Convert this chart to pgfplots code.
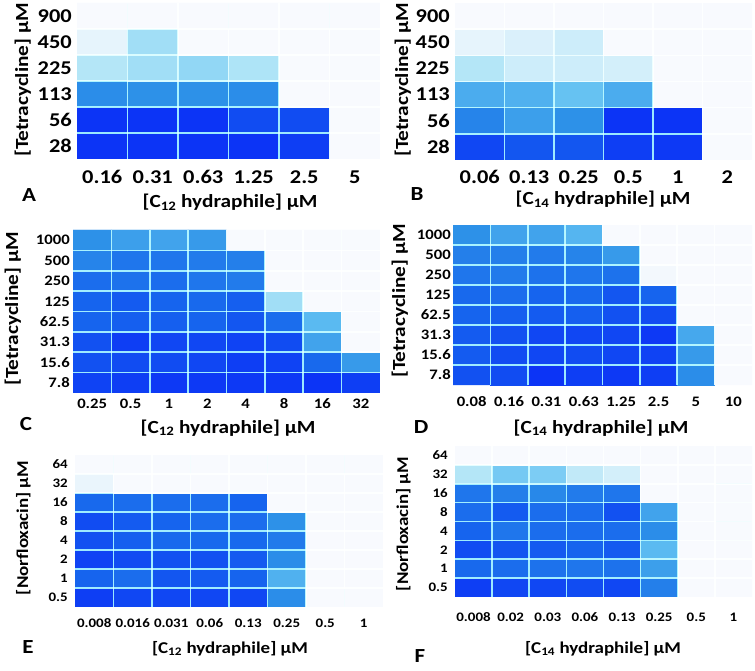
\documentclass[border=0pt]{standalone}
\usepackage{pgfplots}
\pgfplotsset{compat=1.18}
\usepackage{fontspec}
\setmainfont{Carlito}[FakeStretch=1.15]
\newcommand\fs[1]{\bfseries\fontsize{#1}{#1}\selectfont}
\definecolor{gridc}{RGB}{150,225,248}
\begin{document}
\begin{tikzpicture}[x=1pt,y=1pt]
\useasboundingbox (0,0) rectangle (755,-671);
\pgfplotsset{
  colormap={hm}{rgb255=(248,250,254) rgb255=(230,244,252) rgb255=(168,226,246) rgb255=(95,190,242) rgb255=(45,145,232) rgb255=(22,100,238) rgb255=(12,52,246)},
  hm/.style n args={4}{
    at={(#1pt,-#2pt)}, anchor=north west,
    scale only axis, width=#3pt, height=#4pt,
    enlargelimits=false, axis on top,
    axis line style={draw=none},
    major tick length=0pt, minor tick length=0pt,
    point meta min=0, point meta max=6,
    xminorgrids=true, yminorgrids=true,
    minor grid style={draw=gridc, line width=1.6pt, blend mode=screen},
  },
  six/.style={xmin=-0.5, xmax=5.5, ymin=-0.5, ymax=5.5,
    xtick={0,...,5}, ytick={0,...,5},
    minor xtick={0.5,1.5,...,4.5}, minor ytick={0.5,1.5,...,4.5}},
  eight/.style={xmin=-0.5, xmax=7.5, ymin=-0.5, ymax=7.5,
    xtick={0,...,7}, ytick={0,...,7},
    minor xtick={0.5,1.5,...,6.5}, minor ytick={0.5,1.5,...,6.5}},
}
% ---------------- A ----------------
\begin{axis}[hm={77}{3}{303}{156}, six,
  xticklabels={0.16,0.31,0.63,1.25,2.5,5},
  yticklabels={28,56,113,225,450,900},
  tick label style={font=\fs{19.5}},
  xticklabel style={anchor=center, inner sep=0pt, yshift=-18pt},
  yticklabel style={anchor=east, inner sep=0pt, xshift=-5pt}]
\addplot[matrix plot*, mesh/cols=6, point meta=explicit] coordinates {
(0,0)[6] (1,0)[6] (2,0)[6] (3,0)[6] (4,0)[5.8] (5,0)[0]
(0,1)[6] (1,1)[6] (2,1)[6] (3,1)[5.5] (4,1)[5.5] (5,1)[0]
(0,2)[4.1] (1,2)[4] (2,2)[4] (3,2)[4.1] (4,2)[0] (5,2)[0]
(0,3)[1.8] (1,3)[2.1] (2,3)[2.3] (3,3)[1.9] (4,3)[0] (5,3)[0]
(0,4)[1] (1,4)[2.1] (2,4)[0] (3,4)[0] (4,4)[0] (5,4)[0]
(0,5)[0] (1,5)[0] (2,5)[0] (3,5)[0] (4,5)[0] (5,5)[0]
};
\end{axis}
% ---------------- B ----------------
\begin{axis}[hm={455}{3}{297}{157}, six,
  xticklabels={0.06,0.13,0.25,0.5,1,2},
  yticklabels={28,56,113,225,450,900},
  tick label style={font=\fs{19.5}},
  xticklabel style={anchor=center, inner sep=0pt, yshift=-17pt},
  yticklabel style={anchor=east, inner sep=0pt, xshift=-5pt}]
\addplot[matrix plot*, mesh/cols=6, point meta=explicit] coordinates {
(0,0)[5.6] (1,0)[5.3] (2,0)[5.3] (3,0)[5.8] (4,0)[5.9] (5,0)[0]
(0,1)[4.3] (1,1)[3.7] (2,1)[4] (3,1)[6] (4,1)[6] (5,1)[0]
(0,2)[3.4] (1,2)[3.3] (2,2)[2.9] (3,2)[3.4] (4,2)[0] (5,2)[0]
(0,3)[1.8] (1,3)[1.4] (2,3)[1.4] (3,3)[1.3] (4,3)[0] (5,3)[0]
(0,4)[1] (1,4)[1.2] (2,4)[1.4] (3,4)[0] (4,4)[0] (5,4)[0]
(0,5)[0] (1,5)[0] (2,5)[0] (3,5)[0] (4,5)[0] (5,5)[0]
};
\end{axis}
% ---------------- C ----------------
\begin{axis}[hm={73}{230}{307}{163}, eight,
  xticklabels={0.25,0.5,1,2,4,8,16,32},
  yticklabels={7.8,15.6,31.3,62.5,125,250,500,1000},
  tick label style={font=\fs{14.5}},
  xticklabel style={anchor=center, inner sep=0pt, yshift=-11pt},
  yticklabel style={anchor=east, inner sep=0pt, xshift=-3pt}]
\addplot[matrix plot*, mesh/cols=8, point meta=explicit] coordinates {
(0,0)[5.7] (1,0)[5.8] (2,0)[5.9] (3,0)[5.9] (4,0)[5.9] (5,0)[5.9] (6,0)[6] (7,0)[5.8]
(0,1)[5.4] (1,1)[5.5] (2,1)[5.5] (3,1)[5.6] (4,1)[5.8] (5,1)[5.7] (6,1)[4.9] (7,1)[3.8]
(0,2)[5.4] (1,2)[5.8] (2,2)[5.6] (3,2)[5.6] (4,2)[5.7] (5,2)[5.5] (6,2)[3.6] (7,2)[0]
(0,3)[5] (1,3)[5.1] (2,3)[5.1] (3,3)[5] (4,3)[5.3] (5,3)[4.8] (6,3)[3.1] (7,3)[0]
(0,4)[5] (1,4)[5.2] (2,4)[5] (3,4)[4.9] (4,4)[5.1] (5,4)[2.1] (6,4)[0] (7,4)[0]
(0,5)[4.8] (1,5)[4.7] (2,5)[4.8] (3,5)[4.6] (4,5)[4.5] (5,5)[0] (6,5)[0] (7,5)[0]
(0,6)[4.3] (1,6)[4.6] (2,6)[4.6] (3,6)[4.5] (4,6)[4.4] (5,6)[0] (6,6)[0] (7,6)[0]
(0,7)[4] (1,7)[3.7] (2,7)[3.6] (3,7)[3.8] (4,7)[0] (5,7)[0] (6,7)[0] (7,7)[0]
};
\end{axis}
% ---------------- D ----------------
\begin{axis}[hm={453}{225}{299}{160}, eight,
  xticklabels={0.08,0.16,0.31,0.63,1.25,2.5,5,10},
  yticklabels={7.8,15.6,31.3,62.5,125,250,500,1000},
  tick label style={font=\fs{14.5}},
  xticklabel style={anchor=center, inner sep=0pt, yshift=-17pt},
  yticklabel style={anchor=east, inner sep=0pt, xshift=-2pt}]
\addplot[matrix plot*, mesh/cols=8, point meta=explicit] coordinates {
(0,0)[5.4] (1,0)[5.5] (2,0)[6] (3,0)[5.8] (4,0)[5.9] (5,0)[5.8] (6,0)[4.1] (7,0)[0]
(0,1)[5.2] (1,1)[5.5] (2,1)[5.6] (3,1)[5.5] (4,1)[5.6] (5,1)[5.7] (6,1)[3.8] (7,1)[0]
(0,2)[5.2] (1,2)[5.4] (2,2)[5.6] (3,2)[5.6] (4,2)[5.6] (5,2)[5.9] (6,2)[3.5] (7,2)[0]
(0,3)[5] (1,3)[5.1] (2,3)[5.2] (3,3)[5.1] (4,3)[5.4] (5,3)[5.5] (6,3)[0] (7,3)[0]
(0,4)[4.9] (1,4)[4.8] (2,4)[5] (3,4)[4.9] (4,4)[5.3] (5,4)[5] (6,4)[0] (7,4)[0]
(0,5)[4.6] (1,5)[4.5] (2,5)[4.7] (3,5)[4.6] (4,5)[4.7] (5,5)[0.3] (6,5)[0] (7,5)[0]
(0,6)[4.4] (1,6)[4.4] (2,6)[4.5] (3,6)[4.3] (4,6)[3.8] (5,6)[0] (6,6)[0] (7,6)[0]
(0,7)[4] (1,7)[3.6] (2,7)[3.6] (3,7)[3.2] (4,7)[0] (5,7)[0] (6,7)[0] (7,7)[0]
};
\end{axis}
% ---------------- E ----------------
\begin{axis}[hm={75}{455}{308}{152}, eight,
  xticklabels={0.008,0.016,0.031,0.06,0.13,0.25,0.5,1},
  yticklabels={0.5,1,2,4,8,16,32,64},
  tick label style={font=\fs{13}},
  xticklabel style={anchor=center, inner sep=0pt, yshift=-16pt},
  yticklabel style={anchor=east, inner sep=0pt, xshift=-7pt}]
\addplot[matrix plot*, mesh/cols=8, point meta=explicit] coordinates {
(0,0)[5.8] (1,0)[5.6] (2,0)[5.6] (3,0)[5.6] (4,0)[5.6] (5,0)[4.1] (6,0)[0] (7,0)[0]
(0,1)[5] (1,1)[4.8] (2,1)[5.3] (3,1)[5.2] (4,1)[5] (5,1)[3.3] (6,1)[0] (7,1)[0]
(0,2)[5.7] (1,2)[5.5] (2,2)[5.4] (3,2)[5.4] (4,2)[5.2] (5,2)[4.1] (6,2)[0] (7,2)[0]
(0,3)[5.4] (1,3)[5.1] (2,3)[4.9] (3,3)[4.9] (4,3)[4.9] (5,3)[4.5] (6,3)[0] (7,3)[0]
(0,4)[5.5] (1,4)[5.2] (2,4)[5] (3,4)[4.8] (4,4)[4.8] (5,4)[4] (6,4)[0] (7,4)[0]
(0,5)[4.9] (1,5)[4.8] (2,5)[4.8] (3,5)[4.8] (4,5)[5] (5,5)[0] (6,5)[0] (7,5)[0]
(0,6)[0.8] (1,6)[0] (2,6)[0] (3,6)[0] (4,6)[0] (5,6)[0] (6,6)[0] (7,6)[0]
(0,7)[0] (1,7)[0] (2,7)[0] (3,7)[0] (4,7)[0] (5,7)[0] (6,7)[0] (7,7)[0]
};
\end{axis}
% ---------------- F ----------------
\begin{axis}[hm={455}{446}{297}{151}, eight,
  xticklabels={0.008,0.02,0.03,0.06,0.13,0.25,0.5,1},
  yticklabels={0.5,1,2,4,8,16,32,64},
  tick label style={font=\fs{13}},
  xticklabel style={anchor=center, inner sep=0pt, yshift=-20pt},
  yticklabel style={anchor=east, inner sep=0pt, xshift=-7pt}]
\addplot[matrix plot*, mesh/cols=8, point meta=explicit] coordinates {
(0,0)[5.8] (1,0)[5.6] (2,0)[5.6] (3,0)[5.5] (4,0)[5.6] (5,0)[4.4] (6,0)[0] (7,0)[0]
(0,1)[4.9] (1,1)[4.8] (2,1)[4.7] (3,1)[4.6] (4,1)[4.7] (5,1)[3.7] (6,1)[0] (7,1)[0]
(0,2)[5.5] (1,2)[5.3] (2,2)[5.2] (3,2)[5] (4,2)[5.2] (5,2)[3.1] (6,2)[0] (7,2)[0]
(0,3)[5] (1,3)[4.6] (2,3)[4.8] (3,3)[4.8] (4,3)[4.8] (5,3)[4.1] (6,3)[0] (7,3)[0]
(0,4)[4.8] (1,4)[5.2] (2,4)[4.8] (3,4)[4.8] (4,4)[5.4] (5,4)[3.6] (6,4)[0] (7,4)[0]
(0,5)[4.6] (1,5)[4.4] (2,5)[4.2] (3,5)[4.5] (4,5)[4.6] (5,5)[0] (6,5)[0] (7,5)[0]
(0,6)[1.8] (1,6)[2.7] (2,6)[2.6] (3,6)[1.6] (4,6)[1.3] (5,6)[0] (6,6)[0] (7,6)[0]
(0,7)[0] (1,7)[0] (2,7)[0] (3,7)[0] (4,7)[0] (5,7)[0] (6,7)[0] (7,7)[0]
};
\end{axis}
% ---------------- labels ----------------
\node[font=\fs{18.5}, anchor=base] at (230,-208) {[C\textsubscript{12} hydraphile] µM};
\node[font=\fs{18.5}, anchor=base] at (603,-205) {[C\textsubscript{14} hydraphile] µM};
\node[font=\fs{18.5}, anchor=base] at (228,-433) {[C\textsubscript{12} hydraphile] µM};
\node[font=\fs{18.5}, anchor=base] at (601,-433) {[C\textsubscript{14} hydraphile] µM};
\node[font=\fs{16.5}, anchor=base] at (230,-653) {[C\textsubscript{12} hydraphile] µM};
\node[font=\fs{16.5}, anchor=base] at (603,-653) {[C\textsubscript{14} hydraphile] µM};
\node[font=\fs{18.5}, anchor=base, rotate=90] at (28,-80) {[Tetracycline] µM};
\node[font=\fs{18.5}, anchor=base, rotate=90] at (408,-80) {[Tetracycline] µM};
\node[font=\fs{18.5}, anchor=base, rotate=90] at (18,-309) {[Tetracycline] µM};
\node[font=\fs{18.5}, anchor=base, rotate=90] at (405,-301) {[Tetracycline] µM};
\node[font=\fs{16.5}, anchor=base, rotate=90] at (28,-528) {[Norfloxacin] µM};
\node[font=\fs{16.5}, anchor=base, rotate=90] at (408,-524) {[Norfloxacin] µM};
\node[font=\fs{20}, anchor=base] at (29,-202) {A};
\node[font=\fs{20}, anchor=base] at (417,-201) {B};
\node[font=\fs{20}, anchor=base] at (26,-430) {C};
\node[font=\fs{20}, anchor=base] at (421,-433) {D};
\node[font=\fs{20}, anchor=base] at (28,-653) {E};
\node[font=\fs{20}, anchor=base] at (420,-662) {F};
\end{tikzpicture}
\end{document}
